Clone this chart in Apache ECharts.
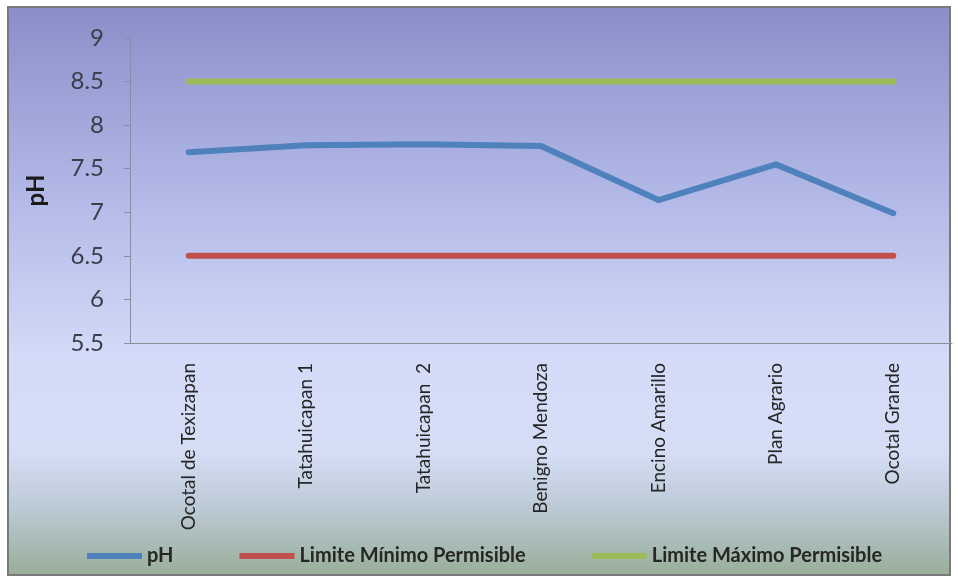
<!DOCTYPE html>
<html>
<head>
<meta charset="utf-8">
<script src="https://cdn.jsdelivr.net/npm/echarts@6/dist/echarts.min.js"></script>
<style>
  html, body { margin: 0; padding: 0; background: #ffffff; }
  #chart { width: 958px; height: 581px; }
</style>
</head>
<body>
<div id="chart"></div>
<script>
// Sampling sites along the x axis
const sites = [
  'Ocotal de Texizapan',
  'Tatahuicapan 1',
  'Tatahuicapan  2',
  'Benigno Mendoza',
  'Encino Amarillo',
  'Plan Agrario',
  'Ocotal Grande'
];

// Measured pH per site
const phValues = [7.69, 7.77, 7.78, 7.76, 7.14, 7.55, 6.99];

// Permissible limits (constant across sites)
const limitMin = [6.5, 6.5, 6.5, 6.5, 6.5, 6.5, 6.5];
const limitMax = [8.5, 8.5, 8.5, 8.5, 8.5, 8.5, 8.5];

// Series names shown in the legend
const seriesNames = ['pH', 'Limite Mínimo Permisible', 'Limite Máximo Permisible'];

// Value axis range
const yMin = 5.5, yMax = 9, yStep = 0.5;

const chart = echarts.init(document.getElementById('chart'), null, { renderer: 'canvas' });

const FONT = 'Lato, "Open Sans", sans-serif';

function lineSeries(name, data, color) {
  return {
    name: name,
    type: 'line',
    data: data,
    symbol: 'none',
    showSymbol: false,
    lineStyle: { color: color, width: 6, cap: 'round', join: 'round' },
    itemStyle: { color: color },
    emphasis: { disabled: true },
    animation: false
  };
}

chart.setOption({
  animation: false,
  graphic: [{
    type: 'rect',
    z: -10,
    silent: true,
    shape: { x: 8, y: 7, width: 942, height: 568 },
    style: {
      fill: new echarts.graphic.LinearGradient(0, 0, 0, 1, [
        { offset: 0.0, color: '#8a8ec8' },
        { offset: 0.35, color: '#b4bbe8' },
        { offset: 0.62, color: '#d3dbf8' },
        { offset: 0.78, color: '#d6def6' },
        { offset: 0.88, color: '#bccad6' },
        { offset: 1.0, color: '#98ae98' }
      ]),
      stroke: '#7a7a7a',
      lineWidth: 2
    }
  }],
  grid: { left: 130, right: 6, top: 38, bottom: 238, containLabel: false },
  legend: {
    left: 82,
    top: 541,
    itemGap: 66,
    itemWidth: 55,
    itemHeight: 6,
    itemStyle: { borderWidth: 0 },
    icon: 'rect',
    textStyle: { fontFamily: FONT, fontSize: 20, fontWeight: 'bold', color: '#262626' },
    data: seriesNames
  },
  xAxis: {
    type: 'category',
    data: sites,
    boundaryGap: true,
    axisLine: { lineStyle: { color: '#8c8c9a', width: 1 } },
    axisTick: { show: false },
    axisLabel: {
      rotate: 90,
      margin: 20,
      interval: 0,
      fontFamily: FONT,
      fontSize: 19,
      color: '#262626'
    },
    splitLine: { show: false }
  },
  yAxis: {
    type: 'value',
    min: yMin,
    max: yMax,
    interval: yStep,
    name: 'pH',
    nameLocation: 'middle',
    nameGap: 82,
    nameTextStyle: { fontFamily: FONT, fontSize: 24, fontWeight: 'bold', color: '#1a1a1a' },
    axisLine: { show: true, lineStyle: { color: '#8c8c9a', width: 1 } },
    axisTick: { show: true, inside: false, length: 6, lineStyle: { color: '#8c8c9a' } },
    axisLabel: {
      fontFamily: FONT,
      fontSize: 24,
      color: '#3c3c4a',
      margin: 26,
      formatter: function (v) { return String(v); }
    },
    splitLine: { show: false }
  },
  series: [
    lineSeries(seriesNames[0], phValues, '#4f81bd'),
    lineSeries(seriesNames[1], limitMin, '#c0504d'),
    lineSeries(seriesNames[2], limitMax, '#9bbb59')
  ]
});
</script>
</body>
</html>
